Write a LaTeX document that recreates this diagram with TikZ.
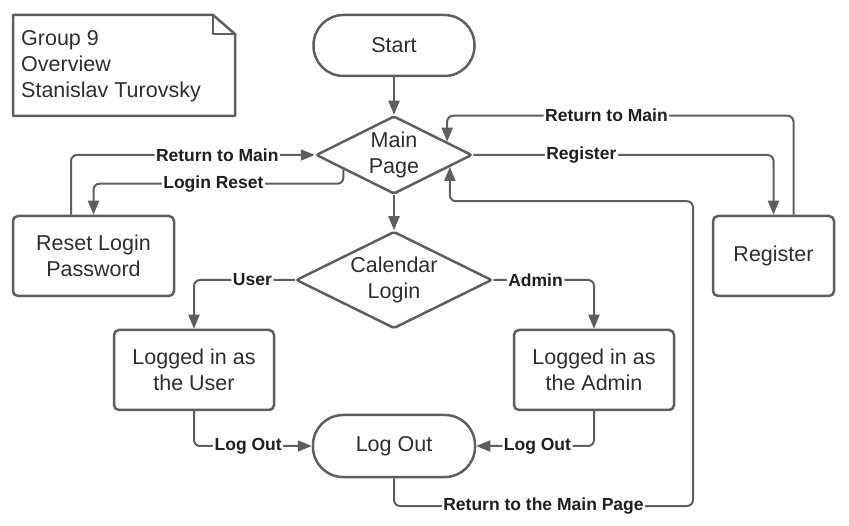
\documentclass[tikz,border=0pt]{standalone}
\usepackage{fontspec}
\setmainfont{Liberation Sans}
\usetikzlibrary{shapes.geometric,arrows.meta,positioning}
\definecolor{edgegray}{HTML}{5E5E5E}
\definecolor{txtgray}{HTML}{2E2E2E}
\tikzset{
  box/.style={draw=edgegray,line width=2.5pt,rounded corners=5pt,minimum width=161pt,minimum height=80pt,align=center,text=txtgray,font=\fontsize{21.5}{26}\selectfont},
  term/.style={box,rounded corners=30pt,minimum width=161pt,minimum height=61pt},
  decision/.style={draw=edgegray,line width=2.5pt,diamond,aspect=2,inner sep=0pt,rounded corners=2pt,align=center,text=txtgray,font=\fontsize{21.5}{26}\selectfont},
  arr/.style={draw=edgegray,line width=2pt,rounded corners=6pt,-{Triangle[length=14pt,width=11pt]}},
  lbl/.style={fill=white,inner sep=1.5pt,text=black!88,font=\bfseries\fontsize{17.5}{20}\selectfont}
}

\begin{document}
\begin{tikzpicture}[x=1pt,y=-1pt]
\useasboundingbox (0,0) rectangle (849,526);

\draw[edgegray,line width=2.5pt,line join=round] (13,15) -- (213,15) -- (235,34) -- (235,116) -- (13,116) -- cycle;
\draw[edgegray,line width=2.5pt,line join=round] (213,15) -- (213,34) -- (235,34);
\node (note) at (21,66) [anchor=west,align=left,inner sep=0pt,text=txtgray,font=\fontsize{21.5}{26}\selectfont] {Group 9\\Overview\\Stanislav Turovsky};

\node (start) at (394,45.5) [term] {Start};
\node (main) at (394,155) [decision,minimum width=156pt,minimum height=78pt] {Main\\Page};
\node (cal) at (394,280) [decision,minimum width=196pt,minimum height=97pt] {Calendar\\Login};
\node (rst) at (93.5,256) [box] {Reset Login\\Password};
\node (reg) at (773.5,256) [box,minimum width=121pt] {Register};
\node (usr) at (194,370) [box,minimum width=160pt] {Logged in as\\the User};
\node (adm) at (594,370) [box,minimum width=160pt] {Logged in as\\the Admin};
\node (lo) at (394,446) [term,minimum width=162pt,minimum height=62pt] {Log Out};

\coordinate (mtr) at (main.14);
\coordinate (mbr) at (main.-12);
\coordinate (mbl) at (main.196);
\coordinate (back) at (693,506);

\draw[arr] (start) -- (main);
\draw[arr] (main) -- (cal);
\draw[arr] (main.east) -| node[lbl,pos=0.18] {Register} (reg.north);
\draw[arr] ([xshift=20pt]reg.north) |- node[lbl,pos=0.77] {Return to Main} ([yshift=26pt]mtr) -- (mtr);
\draw[arr] ([xshift=-22.5pt]rst.north) |- node[lbl,pos=0.8] {Return to Main} (main.west);
\draw[arr] (mbl) |- node[lbl,pos=0.76] {Login Reset} ([yshift=31pt]rst.north) -- (rst.north);
\draw[arr] (cal.west) -| node[lbl,pos=0.21] {User} (usr.north);
\draw[arr] (cal.east) -| node[lbl,pos=0.21] {Admin} (adm.north);
\draw[arr] (usr.south) |- node[lbl,pos=0.73] {Log Out} (lo.west);
\draw[arr] (adm.south) |- node[lbl,pos=0.74] {Log Out} (lo.east);
\draw[arr] (lo.south) |- node[lbl,pos=0.75] {Return to the Main Page} (back) |- ([yshift=-34.3pt]mbr) -- (mbr);
\end{tikzpicture}
\end{document}
